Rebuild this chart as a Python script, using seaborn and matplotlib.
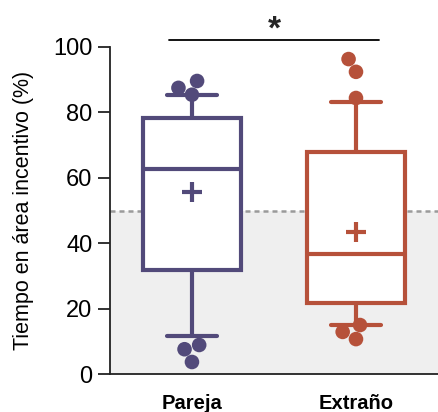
import matplotlib
matplotlib.use("Agg")
import matplotlib.pyplot as plt
import pandas as pd
import seaborn as sns

# values (% time in incentive area)
groups = ["Pareja", "Extraño"]
colors = ["#524a7a", "#b6513a"]
whisker_low = [11.5, 15.0]
q1 = [31.7, 21.7]
median = [62.8, 36.8]
q3 = [78.2, 67.9]
whisker_high = [85.4, 83.2]
means = [55.8, 43.4]
outliers_pareja = [3.7, 7.6, 8.9, 85.4, 87.5, 89.6]
outliers_extrano = [10.7, 12.9, 15.0, 84.4, 92.4, 96.3]

sns.set_style("ticks")
plt.rcParams["font.family"] = ["Liberation Sans", "DejaVu Sans"]

# five-number summary per group -> with whis=(0, 100) seaborn draws exactly these
box_df = pd.DataFrame({
    "group": [g for g in groups for _ in range(5)],
    "value": [v for i in range(len(groups))
              for v in (whisker_low[i], q1[i], median[i], q3[i], whisker_high[i])],
})
out_df = pd.DataFrame({
    "group": [groups[0]] * len(outliers_pareja) + [groups[1]] * len(outliers_extrano),
    "value": outliers_pareja + outliers_extrano,
})
mean_df = pd.DataFrame({"group": groups, "value": means})

fig = plt.figure(figsize=(4.38, 4.12), dpi=100)
ax = fig.add_axes([0.251, 0.092, 0.749, 0.794])

ax.axhspan(0, 50, color="#efefef", zorder=0, lw=0)
ax.axhline(50, color="#9a9a9a", ls=(0, (2, 1.6)), lw=1.8, zorder=0.5)

for g, c in zip(groups, colors):
    sns.boxplot(data=box_df[box_df["group"] == g], x="group", y="value", order=groups,
                whis=(0, 100), width=0.6, color="white", linecolor=c, linewidth=3,
                showfliers=False, ax=ax,
                boxprops={"zorder": 2}, whiskerprops={"zorder": 2},
                capprops={"zorder": 2}, medianprops={"zorder": 2.1})

sns.swarmplot(data=out_df, x="group", y="value", hue="group", order=groups,
              palette=colors, size=10.5, legend=False, ax=ax, zorder=3)
sns.stripplot(data=mean_df, x="group", y="value", hue="group", order=groups,
              palette=colors, marker="+", size=14, linewidth=3, jitter=False,
              legend=False, ax=ax, zorder=3)

ax.set_xlim(-0.5, 1.5)
ax.set_ylim(0, 100)
ax.set_yticks([0, 20, 40, 60, 80, 100])
ax.tick_params(axis="y", labelsize=17, length=9, width=1.3, color="#222222",
               labelcolor="black")
ax.tick_params(axis="x", length=0, pad=14, labelcolor="black")
for lab in ax.get_xticklabels():
    lab.set_fontsize(14.5)
    lab.set_fontweight("bold")
ax.set_xlabel("")
ax.set_ylabel("Tiempo en área incentivo (%)", fontsize=15.5, labelpad=14,
              color="black")
for side in ["top", "right"]:
    ax.spines[side].set_visible(False)
for side in ["left", "bottom"]:
    ax.spines[side].set_linewidth(1.3)
    ax.spines[side].set_color("#222222")

# significance bar
ax.plot([-0.14, 1.14], [102.1, 102.1], color="black", lw=1.3, clip_on=False)
ax.text(0.5, 102.6, "*", ha="center", va="baseline", fontsize=24,
        fontweight="bold")

fig.savefig("out.png", dpi=100)
